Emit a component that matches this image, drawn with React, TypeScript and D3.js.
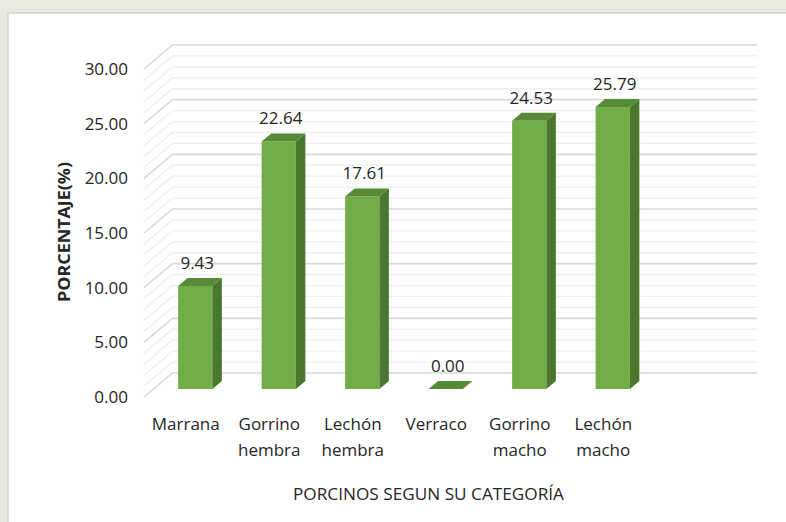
import React, { useEffect, useRef } from 'react';
import * as d3 from 'd3';

const categories = ['Marrana', 'Gorrino hembra', 'Lechón hembra', 'Verraco', 'Gorrino macho', 'Lechón macho'];
const values = [9.43, 22.64, 17.61, 0.0, 24.53, 25.79];
const yTicks = [0, 5, 10, 15, 20, 25, 30];
const minorTicks = d3.range(0, 31, 1);
const xTitle = 'PORCINOS SEGUN SU CATEGORÍA';
const yTitle = 'PORCENTAJE(%)';

const W = 786;
const H = 522;

const App = () => {
  const svgRef = useRef<SVGSVGElement>(null);

  useEffect(() => {
    const svg = d3.select(svgRef.current);
    svg.selectAll('*').remove();

    const font = "'Open Sans', sans-serif";

    // page background (watermark tone) and chart frame
    svg.append('rect').attr('width', W).attr('height', H).attr('fill', '#e8ebe2');
    svg.append('rect')
      .attr('x', 8).attr('y', 13)
      .attr('width', 820).attr('height', 540)
      .attr('fill', '#ffffff')
      .attr('stroke', '#d2d2d2')
      .attr('stroke-width', 1.5);

    // 3D geometry: front plane, depth offset to back wall
    const x0 = 144;
    const step = 83.5;
    const depthX = 28.5;
    const depthY = -24;
    const wallRight = x0 + step * 7 + depthX;

    const xScale = d3.scaleBand<string>()
      .domain(categories)
      .range([x0, x0 + step * categories.length])
      .paddingInner(0.59)
      .paddingOuter(0.295);

    const yScale = d3.scaleLinear().domain([0, 30]).range([397, 69]);

    // gridlines (side wall diagonal + back wall)
    const grid = svg.append('g');
    minorTicks.forEach(t => {
      const major = t % 5 === 0;
      const yf = yScale(t);
      const yb = yf + depthY;
      grid.append('path')
        .attr('d', `M${x0},${yf}L${x0 + depthX},${yb}L${wallRight},${yb}`)
        .attr('fill', 'none')
        .attr('stroke', major ? '#d9d9d9' : '#efefef')
        .attr('stroke-width', major ? 1.6 : 1.3);
    });

    // y tick labels
    svg.append('g').selectAll('text')
      .data(yTicks)
      .enter()
      .append('text')
      .attr('x', 128)
      .attr('y', d => yScale(d))
      .attr('dy', '0.36em')
      .attr('text-anchor', 'end')
      .style('font-family', font)
      .style('font-size', '17px')
      .attr('fill', '#262626')
      .text(d => d.toFixed(2));

    // bars
    const bx = depthX / 3;
    const by = depthY / 3;
    const bars = svg.append('g');
    categories.forEach((c, i) => {
      const v = values[i];
      const bw = xScale.bandwidth();
      const left = (xScale(c) as number) + bx;
      const right = left + bw;
      const base = yScale(0) + by;
      const top = yScale(v) + by;

      if (v > 0) {
        bars.append('rect')
          .attr('x', left).attr('y', top)
          .attr('width', bw).attr('height', base - top)
          .attr('fill', '#70ad47');
        bars.append('path')
          .attr('d', `M${right},${top}L${right + bx},${top + by}L${right + bx},${base + by}L${right},${base}Z`)
          .attr('fill', '#4a772d');
      }
      bars.append('path')
        .attr('d', `M${left},${top}L${right},${top}L${right + bx},${top + by}L${left + bx},${top + by}Z`)
        .attr('fill', '#578a36');

      svg.append('text')
        .attr('x', left + bw / 2 + 2)
        .attr('y', top + by - 9)
        .attr('text-anchor', 'middle')
        .style('font-family', font)
        .style('font-size', '17px')
        .attr('fill', '#262626')
        .text(v.toFixed(2));
    });

    // category labels
    const catG = svg.append('g');
    categories.forEach(c => {
      const cx = (xScale(c) as number) + xScale.bandwidth() / 2;
      const words = c.split(' ');
      const t = catG.append('text')
        .attr('text-anchor', 'middle')
        .style('font-family', font)
        .style('font-size', '17px')
        .attr('fill', '#262626');
      words.forEach((w, k) => {
        t.append('tspan').attr('x', cx).attr('y', 430 + k * 25.5).text(w);
      });
    });

    // axis titles
    svg.append('text')
      .attr('x', 428.5)
      .attr('y', 500)
      .attr('text-anchor', 'middle')
      .style('font-family', font)
      .style('font-size', '17px')
      .attr('fill', '#262626')
      .attr('textLength', 271)
      .attr('lengthAdjust', 'spacingAndGlyphs')
      .text(xTitle);

    svg.append('text')
      .attr('transform', `translate(70, 232) rotate(-90)`)
      .attr('text-anchor', 'middle')
      .style('font-family', font)
      .style('font-size', '16px')
      .style('font-weight', 'bold')
      .attr('fill', '#262626')
      .attr('textLength', 140)
      .attr('lengthAdjust', 'spacingAndGlyphs')
      .text(yTitle);
  }, []);

  return (
    <svg
      ref={svgRef}
      width={W}
      height={H}
      style={{ position: 'fixed', left: 0, top: 0, display: 'block' }}
    />
  );
};

export default App;
